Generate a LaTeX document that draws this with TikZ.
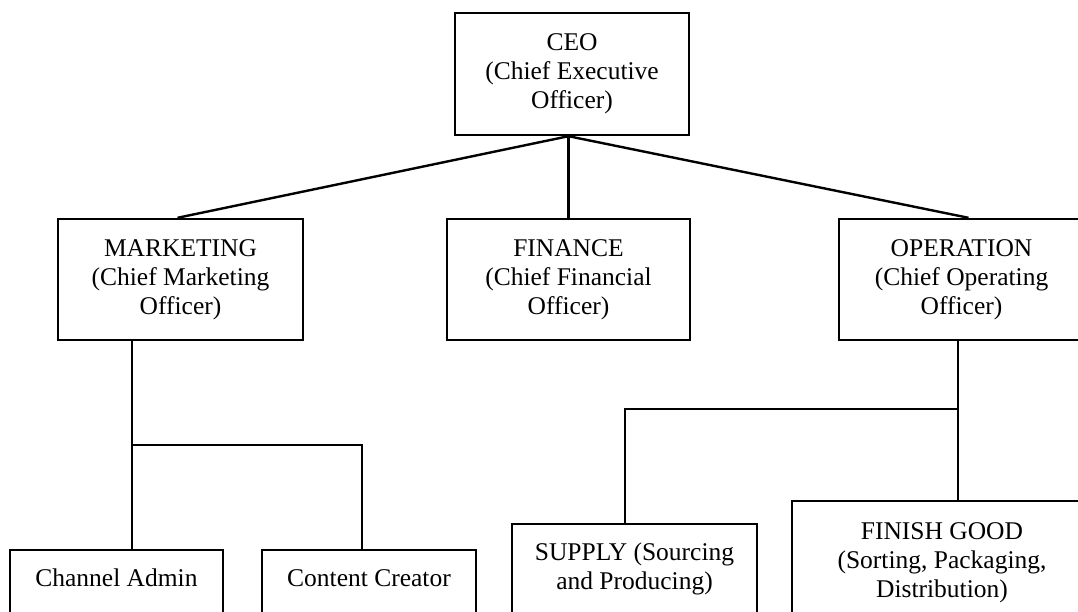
\documentclass[tikz,border=0pt]{standalone}
\usepackage{fontspec}
\setmainfont{Liberation Serif}
\usepackage{tikz}
\usetikzlibrary{calc}

\begin{document}
\begin{tikzpicture}[x=1pt,y=-1pt,line width=2.4pt,
    font=\fontsize{25.5}{29}\selectfont,
    box/.style={draw,rectangle,align=center,inner sep=0pt},
    subbox/.style={draw,rectangle,anchor=north,align=flush center,inner xsep=0pt,inner ysep=0pt,
                   text height=36pt,text depth=150pt}]
                 \useasboundingbox (0,0) rectangle (1078,612);
                 \clip (0,0) rectangle (1078,612);
                 \node[box,minimum width=234pt,minimum height=122pt](ceo)at(572,74){CEO\\(Chief Executive\\Officer)};
                 \node[box,minimum width=245pt,minimum height=121pt](mkt)at(180.5,279.5){MARKETING\\(Chief Marketing\\Officer)};
                 \node[box,minimum width=243pt,minimum height=121pt](fin)at(568.5,279.5){FINANCE\\(Chief Financial\\Officer)};
                 \node[box,minimum width=245pt,minimum height=121pt](op)at(961.5,279.5){OPERATION\\(Chief Operating\\Officer)};
                 \node[subbox,text width=213pt](ca)at(116.5,549){Channel Admin};
                 \node[subbox,text width=214pt](cc)at(369,549){Content Creator};
                 \node[subbox,text width=245pt](sup)at(634.5,523){SUPPLY (Sourcing\\and Producing)};
                 \node[subbox,text width=300pt,text height=38pt](fg)at(942,500){FINISH GOOD\\(Sorting, Packaging,\\Distribution)};
                 \coordinate (hub) at (fin.north |- ceo.south);
                 \draw(hub)--(fin.north);
                 \draw(hub)--([xshift=-3pt]mkt.north);
                 \draw(hub)--([xshift=7pt]op.north);
                 \coordinate (mj) at (132,445);
                 \coordinate (mk) at (362,445);
                 \draw(mkt.south -| mj)--(ca.north -| mj);
                 \draw(mj)--(mk)--(mk |- cc.north);
                 \coordinate (oj) at (958,409);
                 \coordinate (sj) at (625,409);
                 \draw(op.south -| oj)--(fg.north -| oj);
                 \draw(oj)--(sj)--(sj |- sup.north);
\end{tikzpicture}
\end{document}
